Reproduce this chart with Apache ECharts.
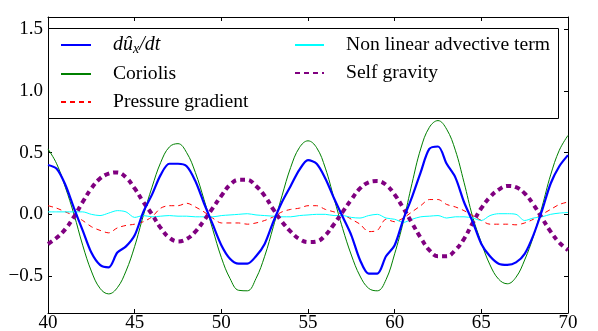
<!DOCTYPE html>
<html><head><meta charset="utf-8">
<script src="https://cdn.jsdelivr.net/npm/echarts@6/dist/echarts.min.js"></script>
<style>html,body{margin:0;padding:0;background:#fff}#c{width:598px;height:331px}</style>
</head><body><div id="c"></div>
<script>
const xs = [40,40.5,41,41.5,42,42.5,43,43.5,44,44.5,45,45.5,46,46.5,47,47.5,48,48.5,49,49.5,50,50.5,51,51.5,52,52.5,53,53.5,54,54.5,55,55.5,56,56.5,57,57.5,58,58.5,59,59.5,60,60.5,61,61.5,62,62.5,63,63.5,64,64.5,65,65.5,66,66.5,67,67.5,68,68.5,69,69.5,70];
const duxdt = [0.40,0.37,0.24,0.05,-0.13,-0.31,-0.41,-0.43,-0.31,-0.26,-0.17,0.02,0.16,0.32,0.41,0.41,0.39,0.27,0.09,-0.08,-0.25,-0.36,-0.40,-0.40,-0.34,-0.24,-0.06,0.10,0.23,0.36,0.44,0.41,0.29,0.13,-0.02,-0.17,-0.37,-0.48,-0.48,-0.34,-0.25,-0.04,0.14,0.34,0.53,0.55,0.41,0.30,0.10,-0.06,-0.24,-0.34,-0.40,-0.41,-0.39,-0.32,-0.17,0.03,0.25,0.39,0.48];
const coriolis = [0.53,0.41,0.22,0.00,-0.25,-0.46,-0.60,-0.645,-0.595,-0.46,-0.26,-0.01,0.22,0.42,0.546,0.573,0.50,0.34,0.12,-0.12,-0.35,-0.52,-0.616,-0.62,-0.52,-0.34,-0.10,0.15,0.38,0.54,0.596,0.54,0.375,0.13,-0.115,-0.33,-0.50,-0.60,-0.62,-0.53,-0.32,-0.06,0.25,0.53,0.705,0.76,0.69,0.52,0.26,-0.02,-0.23,-0.41,-0.526,-0.563,-0.51,-0.37,-0.18,0.06,0.32,0.52,0.64];
const pressure = [0.07,0.05,0.02,-0.01,-0.05,-0.10,-0.13,-0.15,-0.11,-0.09,-0.08,-0.06,-0.02,0.05,0.07,0.07,0.09,0.06,0.02,-0.03,-0.07,-0.07,-0.07,-0.08,-0.07,-0.05,-0.02,0.02,0.04,0.05,0.07,0.07,0.04,0.02,0.00,-0.04,-0.08,-0.14,-0.13,-0.04,-0.06,-0.03,0.02,0.07,0.12,0.12,0.08,0.06,0.03,-0.01,-0.05,-0.08,-0.08,-0.08,-0.085,-0.07,-0.04,0.00,0.04,0.08,0.10];
const advective = [0.02,0.02,0.02,0.02,0.02,0.00,-0.01,0.01,0.03,0.02,-0.025,-0.01,-0.02,-0.015,-0.01,-0.015,-0.015,-0.02,-0.02,-0.02,-0.01,-0.005,0.0,0.005,-0.005,-0.01,-0.015,-0.02,-0.02,-0.01,-0.005,0.0,0.0,-0.01,-0.01,-0.025,-0.03,-0.01,0.0,-0.03,-0.04,-0.065,-0.04,-0.02,-0.015,-0.01,-0.03,-0.02,-0.02,-0.03,-0.05,-0.01,0.005,0.005,0.0,-0.05,-0.03,-0.02,0.0,0.01,0.015];
const selfGravity = [-0.24,-0.19,-0.12,-0.02,0.10,0.21,0.29,0.33,0.34,0.30,0.21,0.10,0.00,-0.11,-0.19,-0.22,-0.20,-0.14,-0.05,0.05,0.15,0.24,0.28,0.28,0.23,0.15,0.04,-0.06,-0.14,-0.20,-0.225,-0.22,-0.17,-0.08,0.02,0.12,0.21,0.26,0.27,0.24,0.16,0.05,-0.07,-0.19,-0.29,-0.34,-0.34,-0.29,-0.20,-0.07,0.05,0.14,0.20,0.23,0.22,0.17,0.08,-0.03,-0.14,-0.23,-0.29];
const seriesNames = ['dux','Coriolis','Pressure gradient','Non linear advective term','Self gravity'];
const yTicks = [-0.5,0,0.5,1.0,1.5];

const FONT = 'Liberation Serif';
const pairs = arr => xs.map((x,i)=>[x,arr[i]]);
const chart = echarts.init(document.getElementById('c'), null, {renderer:'canvas'});
const line = {show:true,onZero:false,lineStyle:{color:'#000',width:1}};
const tick = {show:true,inside:true,length:4,lineStyle:{color:'#000'}};
const ytick = Object.assign({customValues:yTicks}, tick);
const fmtY = v => (v<0?'\u2212':'') + Math.abs(v).toFixed(1);
const legText = {color:'#000',fontFamily:FONT,fontSize:19.6,lineHeight:20,padding:[0,0,0,17]};
chart.setOption({
  animation:false,
  backgroundColor:'#fff',
  grid:{left:48,right:30,top:17,bottom:18,containLabel:false,outerBoundsMode:'none'},
  xAxis:[
    {type:'value',min:40,max:70,interval:5,position:'bottom',axisLine:line,axisTick:tick,splitLine:{show:false},
      axisLabel:{color:'#000',fontFamily:FONT,fontSize:19,margin:1}},
    {type:'value',min:40,max:70,interval:5,position:'top',axisLine:line,axisTick:tick,splitLine:{show:false},axisLabel:{show:false}}
  ],
  yAxis:[
    {type:'value',min:-0.8,max:1.6,position:'left',axisLine:line,axisTick:ytick,splitLine:{show:false},
      axisLabel:{color:'#000',fontFamily:FONT,fontSize:19,margin:5,formatter:fmtY,customValues:yTicks}},
    {type:'value',min:-0.8,max:1.6,position:'right',axisLine:line,axisTick:ytick,splitLine:{show:false},axisLabel:{show:false}}
  ],
  graphic:[{type:'rect',z:3,shape:{x:48.5,y:28.5,width:510,height:90},style:{fill:'#fff',stroke:'#000',lineWidth:1}}],
  legend:[
    {data:seriesNames.slice(0,3),orient:'vertical',left:60,top:35,padding:0,itemWidth:30,itemHeight:14,itemGap:8,z:5,
     itemStyle:{opacity:0},
     formatter:n=> n==='dux' ? '{i|d\u00fb}{s|x}{i|/dt}' : n,
     textStyle:Object.assign({rich:{i:{fontFamily:FONT,fontStyle:'italic',fontSize:20,color:'#000'},
             s:{fontFamily:FONT,fontStyle:'italic',fontSize:14,color:'#000',padding:[8,0,0,0]}}},legText)},
    {data:seriesNames.slice(3),orient:'vertical',left:294,top:35,padding:0,itemWidth:29,itemHeight:14,itemGap:8,z:5,
     itemStyle:{opacity:0},
     textStyle:legText}
  ],
  series:[
    {name:seriesNames[0],type:'line',data:pairs(duxdt),symbol:'none',smooth:0.3,z:4,
     lineStyle:{color:'#0000ff',width:2.2},itemStyle:{color:'#0000ff'}},
    {name:seriesNames[1],type:'line',data:pairs(coriolis),symbol:'none',smooth:0.4,z:2,
     lineStyle:{color:'#008000',width:1},itemStyle:{color:'#008000'}},
    {name:seriesNames[2],type:'line',data:pairs(pressure),symbol:'none',smooth:0.3,z:2,
     lineStyle:{color:'#ff0000',width:1,type:[5,4]},itemStyle:{color:'#ff0000'}},
    {name:seriesNames[3],type:'line',data:pairs(advective),symbol:'none',smooth:0.3,z:2,
     lineStyle:{color:'#00ffff',width:1},itemStyle:{color:'#00ffff'}},
    {name:seriesNames[4],type:'line',data:pairs(selfGravity),symbol:'none',smooth:0.4,z:3,
     lineStyle:{color:'#800080',width:4,type:[5,4],cap:'butt'},itemStyle:{color:'#800080'}}
  ]
});
</script></body></html>
